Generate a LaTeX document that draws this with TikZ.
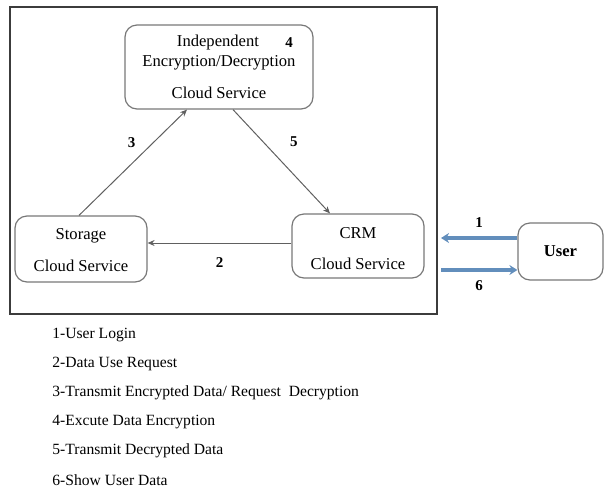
\documentclass[tikz,border=0pt]{standalone}
\usepackage{fontspec}
\setmainfont{Liberation Serif}
\usetikzlibrary{arrows.meta}
\definecolor{boxgray}{RGB}{120,120,120}
\definecolor{framegray}{RGB}{60,60,60}
\definecolor{userblue}{RGB}{98,142,188}
\tikzset{
  service/.style={draw=boxgray, line width=0.6pt, rounded corners=6pt, align=center, font=\fontsize{8.3}{10}\selectfont, inner sep=0pt},
  flow/.style={draw=boxgray!80!black, line width=0.5pt, -{Stealth[length=3.5pt,width=3pt]}},
  userflow/.style={draw=userblue, line width=2pt, -{Stealth[length=4pt,width=5pt]}},
  num/.style={font=\fontsize{7.5}{9}\selectfont\bfseries},
  legend/.style={anchor=west, inner sep=0pt, font=\fontsize{7.8}{9}\selectfont},
}
\begin{document}
\begin{tikzpicture}[x=0.5pt, y=-0.5pt]
\useasboundingbox (0,0) rectangle (605,488);
% outer frame
\node[draw=framegray, line width=1pt, minimum width=213.5pt, minimum height=153.5pt, inner sep=0pt] (frame) at (223.5,160.5) {};
% services
\node[service, minimum width=94pt, minimum height=42pt] (enc) at (219,67) {};
\node (encA) at (218,43) {\fontsize{8.3}{10}\selectfont Independent};
\node (encB) at (219,63) {\fontsize{8.3}{10}\selectfont Encryption/Decryption};
\node (encC) at (219,93) {\fontsize{8.3}{10}\selectfont Cloud Service};
\node[num] (n4) at (289,43) {4};
\node[service, minimum width=66pt, minimum height=33pt] (storage) at (81,249) {};
\node (stoA) at (81,236) {\fontsize{8.3}{10}\selectfont Storage};
\node (stoB) at (81,266) {\fontsize{8.3}{10}\selectfont Cloud Service};
\node[service, minimum width=66pt, minimum height=32pt] (crm) at (358,246) {};
\node (crmA) at (358,233) {\fontsize{8.3}{10}\selectfont CRM};
\node (crmB) at (358,264) {\fontsize{8.3}{10}\selectfont Cloud Service};
\node[service, minimum width=42.5pt, minimum height=28.5pt, font=\fontsize{8.3}{10}\selectfont\bfseries] (user) at (560.5,251.5) {User};
% inner arrows
\draw[flow] ([xshift=-1pt]storage.north) -- ([xshift=-16pt]enc.south) node[num, pos=0.69, left=5.5pt] (n3) {3};
\draw[flow] ([xshift=7pt]enc.south) -- ([xshift=-14pt]crm.north) node[num, pos=0.31, right=10pt] (n5) {5};
\draw[flow] ([yshift=1.5pt]crm.west) -- ([yshift=3pt]storage.east) node[num, midway, below=3.5pt] (n2) {2};
% user arrows
\coordinate (u1) at ([yshift=6.75pt]user.west);
\coordinate (u6) at ([yshift=-9.25pt]user.west);
\draw[userflow] (u1) -- ([xshift=1.5pt]frame.east |- u1) node[num, midway, above=1pt] (n1) {1};
\draw[userflow] ([xshift=1.5pt]frame.east |- u6) -- (u6) node[num, midway, below=1pt] (n6) {6};
% legend
\node[legend] (l1) at (52,335) {1-User Login};
\node[legend] (l2) at (52,364) {2-Data Use Request};
\node[legend] (l3) at (52,393) {3-Transmit Encrypted Data/ Request\ \ Decryption};
\node[legend] (l4) at (52,422) {4-Excute Data Encryption};
\node[legend] (l5) at (52,451) {5-Transmit Decrypted Data};
\node[legend] (l6) at (52,480) {6-Show User Data};
\end{tikzpicture}
\end{document}
